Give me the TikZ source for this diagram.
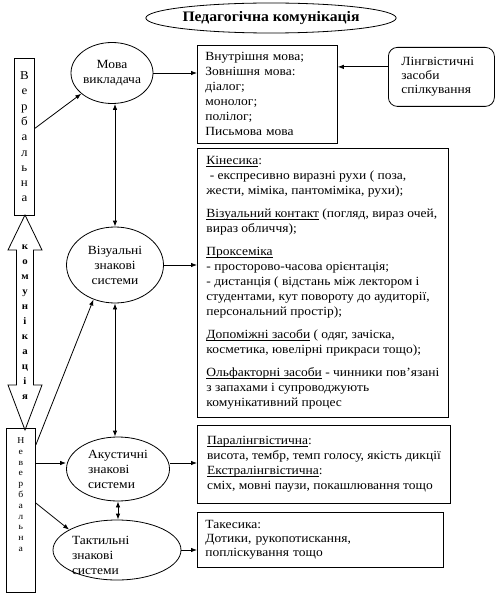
\documentclass[tikz,border=0pt]{standalone}
\usepackage{fontspec}
\setmainfont{Liberation Serif}[FakeStretch=1.08]
\usetikzlibrary{arrows.meta,positioning,calc,shapes.geometric}

\newcommand{\undl}[1]{\setbox0=\hbox{#1}\rlap{\rule[-2.2pt]{\wd0}{0.6pt}}\box0\relax}

\tikzset{
  ell/.style={draw,ellipse,inner sep=0pt,align=center},
  txtbox/.style={draw,rectangle,align=left,inner ysep=0pt,inner xsep=8pt,anchor=north west},
  letters/.style={draw,rectangle,align=center,inner sep=0pt,anchor=north west},
  conn/.style={-{Latex[length=6pt,width=4.5pt]}},
  dconn/.style={{Latex[length=6pt,width=4.5pt]}-{Latex[length=6pt,width=4.5pt]}},
}

\begin{document}
\begin{tikzpicture}[x=1pt,y=-1pt,line width=0.8pt,font=\fontsize{12.5}{15}\selectfont]
    \useasboundingbox (0,0) rectangle (496,596);
    % title
    \node[ell,minimum width=243pt,minimum height=30pt,font=\bfseries\fontsize{14.5}{15}\selectfont]
      (title) at (271,18) {Педагогічна комунікація};
    % left column: verbal / nonverbal
    \node[letters,minimum width=20pt,minimum height=157pt,font=\fontsize{12}{15.3}\selectfont]
      (verb) at (14,58) {В\\е\\р\\б\\а\\л\\ь\\н\\а};
    \node[letters,minimum width=29pt,minimum height=164pt,font=\fontsize{9}{10.8}\selectfont]
      (nonverb) at (6,428) {Н\\е\\в\\е\\р\\б\\а\\л\\ь\\н\\а\\[21pt]\mbox{}};
    \draw (25,215) -- (42,250) -- (33.5,250) -- (33.5,385) -- (42,385) -- (25,430)
      -- (8,385) -- (16.5,385) -- (16.5,250) -- (8,250) -- cycle;
    \node[align=center,font=\bfseries\fontsize{10}{15}\selectfont]
      (komun) at (25,322) {к\\о\\м\\у\\н\\і\\к\\а\\ц\\і\\я};
    % sign systems
    \node[ell,minimum width=80pt,minimum height=61pt] (mova) at (112,73) {Мова\\викладача};
    \node[ell,minimum width=97pt,minimum height=76pt] (vis) at (115,265) {Візуальні\\знакові\\системи};
    \node[ell,minimum width=103pt,minimum height=64pt,align=left] (acu) at (118,469) {Акустичні\\знакові\\системи};
    \node[ell,minimum width=128pt,minimum height=60pt] (tact) at (117,550) {};
    \node[anchor=west,align=left,inner sep=0pt] (tacttxt) at ([xshift=19pt,yshift=-5pt]tact.west)
      {Тактильні\\знакові\\системи};
    % text boxes
    \node[txtbox,text width=124pt,minimum height=98pt] (vnutr) at (197,45)
      {Внутрішня мова;\\Зовнішня мова:\\діалог;\\монолог;\\полілог;\\Письмова мова};
    \node[txtbox,rounded corners=9pt,text width=80pt,minimum height=59pt,inner xsep=13pt,
      font=\fontsize{12.5}{14}\selectfont] (ling) at (388,47) {Лінгвістичні\\засоби\\спілкування};
    \node[txtbox,minimum width=251pt,minimum height=269pt] (kin) at (197,148)
      {\undl{Кінесика}:\\
       \ - експресивно виразні рухи ( поза,\\
       жести, міміка, пантоміміка, рухи);\\[8pt]
       \undl{Візуальний контакт} (погляд, вираз очей,\\
       вираз обличчя);\\[8pt]
       \undl{Проксеміка}\\
       - просторово-часова орієнтація;\\
       - дистанція ( відстань між лектором і\\
       студентами, кут повороту до аудиторії,\\
       персональний простір);\\[8pt]
       \undl{Допоміжні засоби} ( одяг, зачіска,\\
       косметика, ювелірні прикраси тощо);\\[8pt]
       \undl{Ольфакторні засоби} - чинники пов'язані\\
       з запахами і супроводжують\\
       комунікативний процес};
    \node[txtbox,minimum width=253pt,minimum height=78pt] (para) at (197,425)
      {\undl{Паралінгвістична}:\\
       висота, тембр, темп голосу, якість дикції\\
       \undl{Екстралінгвістична}:\\
       сміх, мовні паузи, покашлювання тощо};
    \node[txtbox,text width=230pt,minimum height=55pt,font=\fontsize{12.5}{14}\selectfont] (takes) at (197,512)
      {Такесика:\\Дотики, рукопотискання,\\поплiскування тощо};
    % verbal branch
    \draw[conn] ([yshift=8.5pt]verb.east) -- (mova.214);
    \draw[conn] (mova.east) -- (mova.east -| vnutr.west);
    \coordinate (lingin) at ([yshift=10pt]ling.west);
    \draw[conn] (lingin) -- (lingin -| vnutr.east);
    \draw[dconn] (mova.south -| vis.north) -- (vis.north);
    \draw[conn] (vis.east) -- (vis.east -| kin.west);
    \draw[dconn] (vis.south) -- (vis.south |- acu.north);
    % nonverbal branch
    \draw[conn] ([yshift=-17pt]nonverb.north east) -- (vis.238);
    \coordinate (nvA) at ([yshift=-35pt]nonverb.north east);
    \draw[conn] (nvA) -- (nvA -| acu.west);
    \draw[conn] ([yshift=-75pt]nonverb.north east) -- (tact.157);
    \draw[dconn] (acu.south) -- (acu.south |- tact.north);
    \coordinate (acuout) at ([yshift=6pt]acu.east);
    \draw[conn] (acuout) -- (acuout -| para.west);
    \draw[conn] (tact.east) -- (tact.east -| takes.west);
  \end{tikzpicture}
\end{document}
